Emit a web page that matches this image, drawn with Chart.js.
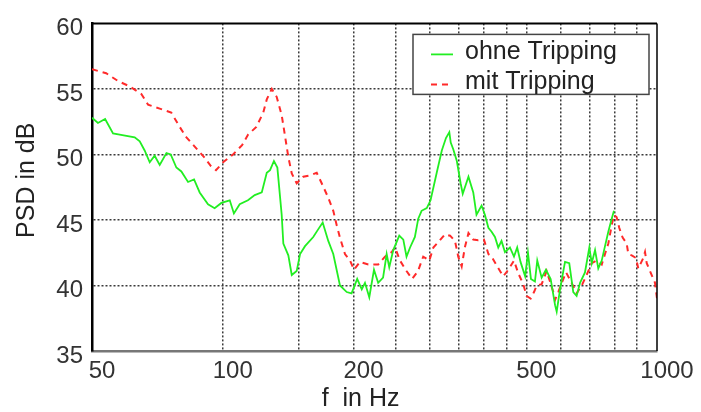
<!DOCTYPE html>
<html>
<head>
<meta charset="utf-8">
<script src="https://cdn.jsdelivr.net/npm/chart.js@4.4.1/dist/chart.umd.min.js"></script>
<style>
  html, body { margin: 0; padding: 0; background: #fff; }
  #c { display: block; }
</style>
</head>
<body>
<canvas id="c" width="701" height="412"></canvas>
<script>
// ---- Data ----
const xGridTicks = [50, 100, 150, 200, 250, 300, 350, 400, 450, 500, 600, 700, 800, 900, 1000];
const xLabelTicks = [50, 100, 200, 500, 1000];
const yTicks = [35, 40, 45, 50, 55, 60];

const seriesNames = ['ohne Tripping', 'mit Tripping'];

const greenFreq = [50, 51.6, 53.6, 55.9, 58.3, 62.7, 64.4, 66.1, 67.9, 69.7, 71.6, 74.2, 75.9, 78.2, 80.3,
  83.2, 85.9, 88.5, 92.5, 95.8, 99.3, 103.8, 106.1, 109.4, 114.3, 118.5, 123, 126.3, 128.5, 131.2, 133.6,
  136.7, 137.9, 141.6, 144.2, 148, 150.7, 154.7, 161.6, 166, 169.9, 175, 179.7, 186.2, 193, 198, 204,
  209, 212.6, 217.5, 223, 228, 234, 238.5, 241.8, 247, 255, 260.5, 265, 270, 277, 282, 287, 295, 301,
  311, 319.5, 326.6, 332.5, 335, 339.5, 346, 353, 357, 368, 377.5, 384, 394.5, 401.5, 409, 416, 423.5,
  431, 438.5, 446.5, 458.5, 468.5, 476.5, 485, 497, 504.5, 512.5, 523.5, 530, 542.5, 555, 569, 582.5,
  587.5, 598, 614, 628, 641.5, 653, 665, 682.5, 698.5, 707.5, 720, 732.5, 746, 759, 772.5, 786.5, 796];
const greenPSD = [52.8, 52.4, 52.7, 51.6, 51.5, 51.3, 51.0, 50.3, 49.4, 49.9, 49.2, 50.1, 50.0, 49.0, 48.7,
  47.9, 48.1, 47.1, 46.2, 45.9, 46.3, 46.5, 45.5, 46.2, 46.5, 46.9, 47.1, 48.6, 48.8, 49.5, 49.0,
  45.4, 43.2, 42.3, 40.8, 41.1, 42.4, 43.0, 43.7, 44.3, 44.8, 43.4, 42.4, 40.0, 39.5, 39.4, 40.5,
  39.7, 40.2, 39.1, 41.2, 40.2, 40.6, 42.4, 41.4, 42.7, 43.8, 43.5, 42.2, 42.9, 43.7, 45.1, 45.7, 45.9, 46.5,
  48.6, 50.3, 51.25, 51.7, 50.9, 50.4, 49.5, 47.8, 47.0, 48.3, 47.1, 45.4, 46.1, 45.4, 44.4, 44.1, 43.7,
  42.9, 43.4, 42.55, 42.9, 42.2, 42.9, 41.8, 40.7, 42.5, 40.5, 40.3, 41.9, 40.6, 41.2, 40.5, 38.5,
  38.0, 39.7, 41.8, 41.7, 39.5, 39.2, 40.2, 41.0, 42.9, 41.7, 42.7, 41.3, 41.9, 43.0, 44.1, 45.1, 45.7];

const redFreq = [50, 53.9, 57.4, 61, 65, 67.3, 71.6, 76.1, 79.6, 82.5, 86.2, 90.6, 94, 96.5, 100.2, 105.6,
  110.8, 114.3, 119.5, 124, 126.3, 129.7, 133.1, 136.7, 139, 141.6, 144.2, 148, 153.3, 158.9, 164.6,
  169, 175, 179.7, 183, 186.2, 191.2, 196.4, 200.6, 207, 216.4, 228, 236.4, 245, 249.3, 256, 265, 273,
  281.6, 289.5, 299, 305.5, 313.5, 325, 333.8, 342.6, 348.6, 355, 361, 368, 377.5, 387.5, 399.5, 409,
  416, 428.7, 442.6, 454.5, 468.5, 479, 492, 501, 511.7, 521, 528.5, 542.5, 557, 567, 577, 582.5, 592.5,
  603.5, 617.5, 636, 653, 671, 688.5, 707.5, 726.5, 746, 759, 772.5, 786.5, 796, 807.5, 818.5, 833.5,
  851.5, 859, 874.5, 894.5, 905.5, 930, 938.5, 947, 963.5, 989.5, 1000];
const redPSD = [56.5, 56.2, 55.6, 55.2, 54.6, 53.8, 53.5, 53.2, 52.1, 51.3, 50.6, 49.8, 49.1, 48.8, 49.4, 50.0,
  50.7, 51.5, 52.1, 53.2, 54.2, 55.0, 54.4, 53.0, 51.5, 49.8, 48.55, 47.8, 48.3, 48.4, 48.6,
  47.8, 46.7, 45.7, 44.6, 43.65, 42.4, 41.9, 41.2, 41.8, 41.6, 41.6, 42.2, 42.55, 42.9, 41.9, 41.1, 40.5,
  41.1, 42.2, 41.9, 42.9, 43.3, 43.9, 43.8, 43.4, 42.2, 41.45, 42.9, 44.0, 43.5, 43.45, 43.5, 42.4,
  42.2, 41.45, 40.7, 41.2, 41.9, 40.95, 40.1, 39.2, 39.0, 39.5, 40.0, 40.1, 41.1, 40.3, 39.5, 38.9, 39.5,
  40.2, 41.0, 40.2, 39.4, 40.0, 40.8, 41.7, 41.9, 41.6, 42.4, 43.2, 44.6, 45.4, 45.2, 44.4, 43.65,
  43.2, 42.4, 42.3, 42.1, 41.3, 42.1, 42.55, 41.7, 41.1, 40.2, 39.0];

const xTitle = 'f  in Hz';
const yTitle = 'PSD in dB';

// ---- Chart ----
Chart.defaults.font.family = '"Liberation Sans", Arial, sans-serif';

const toPoints = (fx, fy) => fx.map((f, i) => ({ x: f, y: fy[i] }));

const frameAndLegend = {
  id: 'frameAndLegend',
  afterDatasetsDraw(chart) {
    const { ctx, chartArea: a } = chart;
    ctx.save();
    ctx.strokeStyle = '#000';
    ctx.lineWidth = 2;
    ctx.beginPath();
    ctx.moveTo(a.left - 1, a.top);
    ctx.lineTo(a.right, a.top);
    ctx.stroke();
    ctx.lineWidth = 1.5;
    ctx.beginPath();
    ctx.moveTo(a.right, a.top);
    ctx.lineTo(a.right, a.bottom);
    ctx.stroke();
    ctx.restore();
  },
  afterDraw(chart) {
    const { ctx, chartArea: a } = chart;
    const x0 = a.right - 244, y0 = a.top + 11, w = 236, h = 60;
    ctx.save();
    ctx.fillStyle = '#fff';
    ctx.fillRect(x0, y0, w, h);
    ctx.strokeStyle = '#444';
    ctx.lineWidth = 1.5;
    ctx.strokeRect(x0, y0, w, h);
    chart.data.datasets.forEach((ds, i) => {
      const cy = y0 + 20 + i * 30;
      ctx.strokeStyle = ds.borderColor;
      ctx.lineWidth = ds.borderWidth;
      ctx.setLineDash(ds.borderDash || []);
      ctx.beginPath();
      ctx.moveTo(x0 + 18, cy);
      ctx.lineTo(x0 + 40, cy);
      ctx.stroke();
      ctx.setLineDash([]);
      ctx.fillStyle = '#222';
      ctx.font = '25px "Liberation Sans", Arial, sans-serif';
      ctx.textBaseline = 'middle';
      ctx.textAlign = 'left';
      ctx.fillText(ds.label, x0 + 52, cy - 2);
    });
    ctx.restore();
  }
};

const gridColorX = (c) => (c.tick && (c.tick.value === xGridTicks[0] || c.tick.value === xGridTicks[xGridTicks.length - 1])) ? 'rgba(0,0,0,0)' : '#3a3a3a';
const gridColorY = (c) => (c.tick && (c.tick.value === yTicks[0] || c.tick.value === yTicks[yTicks.length - 1])) ? 'rgba(0,0,0,0)' : '#3a3a3a';

new Chart(document.getElementById('c'), {
  type: 'line',
  data: {
    datasets: [
      {
        label: seriesNames[0],
        data: toPoints(greenFreq, greenPSD),
        borderColor: '#22ee22',
        borderWidth: 1.8,
        pointRadius: 0,
        tension: 0,
        fill: false
      },
      {
        label: seriesNames[1],
        data: toPoints(redFreq, redPSD),
        borderColor: '#ff2a2a',
        borderWidth: 2,
        borderDash: [6, 5],
        pointRadius: 0,
        tension: 0,
        fill: false
      }
    ]
  },
  options: {
    responsive: false,
    animation: false,
    devicePixelRatio: 1,
    layout: { padding: { top: 11, right: 44, left: 0, bottom: 0 } },
    plugins: { legend: { display: false }, tooltip: { enabled: false } },
    scales: {
      x: {
        type: 'logarithmic',
        min: 50,
        max: 1000,
        afterBuildTicks: (s) => { s.ticks = xGridTicks.map(v => ({ value: v })); },
        afterFit: (s) => { s.height = 61; },
        ticks: {
          autoSkip: false,
          maxRotation: 0,
          padding: 6,
          labelOffset: 10,
          color: '#333',
          font: { size: 24 },
          callback: (v) => xLabelTicks.includes(v) ? String(v) : ''
        },
        grid: { color: gridColorX, lineWidth: 1.5, drawTicks: false },
        border: { display: true, color: '#777', width: 2.5, dash: [2, 2] },
        title: {
          display: true,
          text: xTitle + '    ',
          color: '#222',
          font: { size: 25, lineHeight: 1 },
          padding: { top: 0, bottom: 0 }
        }
      },
      y: {
        min: 35,
        max: 60,
        afterBuildTicks: (s) => { s.ticks = yTicks.map(v => ({ value: v })); },
        afterFit: (s) => { s.width = 92; },
        ticks: {
          padding: 9,
          labelOffset: 5,
          color: '#333',
          font: { size: 24 }
        },
        grid: { color: gridColorY, lineWidth: 1.5, drawTicks: false },
        border: { display: true, color: '#000', width: 2.5, dash: [2, 2] },
        title: {
          display: true,
          text: '  ' + yTitle,
          color: '#222',
          font: { size: 25, lineHeight: 1 },
          padding: { top: 15, bottom: 0 }
        }
      }
    }
  },
  plugins: [frameAndLegend]
});
</script>
</body>
</html>
